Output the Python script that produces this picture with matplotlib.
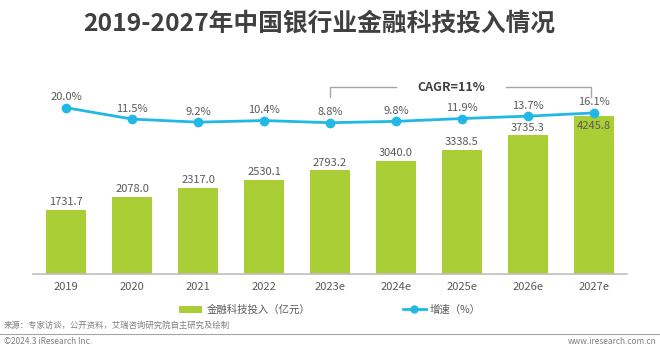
import matplotlib
matplotlib.use("Agg")
import matplotlib.pyplot as plt
from matplotlib.patches import Patch
from matplotlib.lines import Line2D

plt.rcParams['font.family'] = ['Noto Sans CJK SC', 'DejaVu Sans']

years = ["2019", "2020", "2021", "2022", "2023e", "2024e", "2025e", "2026e", "2027e"]
investment = [1731.7, 2078.0, 2317.0, 2530.1, 2793.2, 3040.0, 3338.5, 3735.3, 4245.8]
growth = [20.0, 11.5, 9.2, 10.4, 8.8, 9.8, 11.9, 13.7, 16.1]
title = "2019-2027年中国银行业金融科技投入情况"
bar_label = "金融科技投入（亿元）"
line_label = "增速（%）"
cagr_text = "CAGR=11%"
source = "来源：专家访谈，公开资料，艾瑞咨询研究院自主研究及绘制"
copyright_text = "©2024.3 iResearch Inc."
url = "www.iresearch.com.cn"

bar_color = "#AACF36"
line_color = "#22B8E6"
text_color = "#595959"

fig = plt.figure(figsize=(6.6, 3.51), dpi=100)
ax = fig.add_axes([0.05, 0.2194, 0.9, 0.6097])
x = list(range(len(years)))
ax.bar(x, investment, width=0.62, color=bar_color, zorder=2)
ax.set_xlim(-0.5, len(years) - 0.5)
ax.set_ylim(0, 5768)
ax.set_xticks(x)
ax.set_xticklabels(years, fontsize=8, color=text_color)
ax.tick_params(axis='x', length=0, pad=6)
ax.set_yticks([])
for s in ['top', 'right', 'left']:
    ax.spines[s].set_visible(False)
ax.spines['bottom'].set_color('#BFBFBF')
ax.spines['bottom'].set_linewidth(1.2)

for i, v in enumerate(investment):
    if i == len(investment) - 1:
        ax.annotate(f"{v:.1f}", (i, v), xytext=(0, -3), textcoords='offset points',
                    ha='center', va='top', fontsize=8, color=text_color, zorder=5)
    else:
        ax.annotate(f"{v:.1f}", (i, v), xytext=(0, 2), textcoords='offset points',
                    ha='center', va='bottom', fontsize=8, color=text_color)

ax2 = ax.twinx()
ax2.set_ylim(-104.1, 55.6)
ax2.plot(x, growth, color=line_color, lw=2, marker='o', ms=6, zorder=4)
ax2.set_yticks([])
for s in ['top', 'right', 'left', 'bottom']:
    ax2.spines[s].set_visible(False)
for i, v in enumerate(growth):
    ax2.annotate(f"{v:.1f}%", (i, v), xytext=(0, 4), textcoords='offset points',
                 ha='center', va='bottom', fontsize=8, color=text_color)

# CAGR bracket
bx0, bx1 = 4, 8
ytop, ybot = 35.4, 28.0
gc = '#A6A6A6'
ax2.plot([bx0, bx0, 5.0], [ybot, ytop, ytop], color=gc, lw=1, clip_on=False)
ax2.plot([6.66, bx1 - 0.05, bx1 - 0.05], [ytop, ytop, ybot], color=gc, lw=1, clip_on=False)
ax2.text(5.83, ytop, cagr_text, ha='center', va='center', fontsize=9,
         fontweight='bold', color='#404040')

fig.text(0.484, 0.932, title, ha='center', va='center', fontsize=17.8,
         fontweight='bold', color='#404040')

handles = [Patch(facecolor=bar_color, edgecolor='none', label=bar_label),
           Line2D([0], [0], color=line_color, lw=2, marker='o', ms=5, label=line_label)]
fig.legend(handles=handles, loc='center', bbox_to_anchor=(0.5, 0.117), ncol=2,
           frameon=False, fontsize=7.5, handlelength=2.2, handleheight=0.7,
           handletextpad=0.4, columnspacing=8.9, labelcolor=text_color)

fig.text(0.006, 1 - 325 / 351, source, ha='left', va='center', fontsize=6, color='#7F7F7F')
fig.add_artist(Line2D([0, 1], [1 - 334 / 351, 1 - 334 / 351], color='#A6A6A6', lw=0.8,
                      transform=fig.transFigure))
fig.text(0.006, 1 - 342 / 351, copyright_text, ha='left', va='center', fontsize=6, color='#7F7F7F')
fig.text(0.994, 1 - 342 / 351, url, ha='right', va='center', fontsize=6, color='#7F7F7F')

fig.savefig("out.png", dpi=100, facecolor='white')
